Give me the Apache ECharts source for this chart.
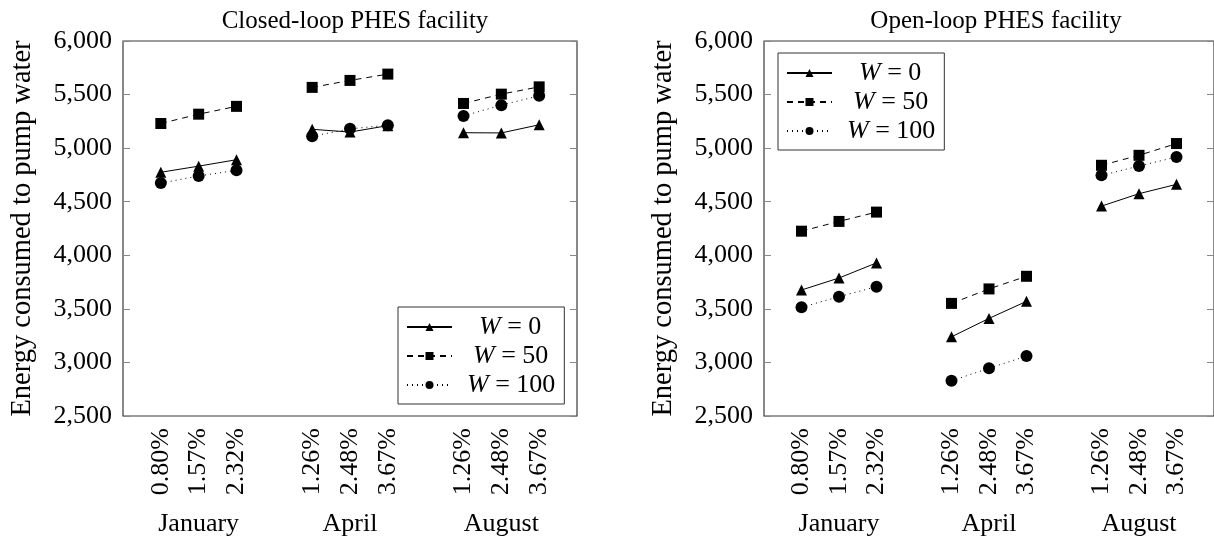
<!DOCTYPE html>
<html><head><meta charset="utf-8">
<script src="https://cdn.jsdelivr.net/npm/echarts@6/dist/echarts.min.js"></script>
<style>html,body{margin:0;padding:0;background:#fff}#c{width:1214px;height:539px}</style>
</head><body><div id="c"></div>
<script>
// ---- data ----
const months = ['January', 'April', 'August'];
const pctJanuary = ['0.80%', '1.57%', '2.32%'];
const pctApril = ['1.26%', '2.48%', '3.67%'];
const pctAugust = ['1.26%', '2.48%', '3.67%'];
const seriesNames = ['W = 0', 'W = 50', 'W = 100'];
const chartTitles = ['Closed-loop PHES facility', 'Open-loop PHES facility'];
const yTitle = 'Energy consumed to pump water';

// closed-loop: Jan(3), Apr(3), Aug(3)
const closedW0 = [4775, 4832, 4892, 5176, 5150, 5210, 5144, 5142, 5218];
const closedW50 = [5230, 5317, 5390, 5567, 5632, 5691, 5417, 5504, 5572];
const closedW100 = [4674, 4740, 4793, 5111, 5180, 5214, 5301, 5401, 5489];
// open-loop
const openW0 = [3676, 3788, 3929, 3239, 3411, 3570, 4459, 4575, 4662];
const openW50 = [4225, 4316, 4403, 3551, 3686, 3804, 4840, 4933, 5043];
const openW100 = [3514, 3614, 3707, 2828, 2946, 3059, 4746, 4833, 4917];

// ---- build ----
const FONT = '"Liberation Serif", "DejaVu Serif", serif';
const groups = [pctJanuary, pctApril, pctAugust];
const cats = [''];
groups.forEach(g => { g.forEach(l => cats.push(l)); cats.push(''); });
function withGaps(vals) {
  const out = ['-'];
  for (let gi = 0; gi < 3; gi++) {
    for (let k = 0; k < 3; k++) out.push(vals[gi * 3 + k]);
    out.push('-');
  }
  return out;
}
const chartData = [[closedW0, closedW50, closedW100], [openW0, openW50, openW100]];
const symbols = ['triangle', 'rect', 'circle'];
const symSizes = [11, 11, 12];
const dashTypes = ['solid', [6, 5], [1, 4]];

const gridLefts = [123, 764];
const grids = [], xAxes = [], yAxes = [], series = [], titles = [], legends = [];
const legendPos = [{left: 398, top: 307}, {left: 778, top: 53}];

for (let c = 0; c < 2; c++) {
  grids.push({left: gridLefts[c], top: 41, width: 454, height: 375, show: true,
    borderColor: '#3a3a3a', borderWidth: 1.2, backgroundColor: 'transparent'});
  xAxes.push({type: 'category', gridIndex: c, data: cats, boundaryGap: false, position: 'bottom',
    axisLine: {show: false}, axisTick: {show: false}, splitLine: {show: false},
    axisLabel: {interval: 0, rotate: 90, fontFamily: FONT, fontSize: 26, color: '#000', margin: 12}});
  xAxes.push({type: 'category', gridIndex: c, data: months, position: 'bottom', offset: 87,
    axisLine: {show: false}, axisTick: {show: false}, splitLine: {show: false},
    axisLabel: {fontFamily: FONT, fontSize: 26, color: '#000', margin: 8}});
  yAxes.push({type: 'value', gridIndex: c, min: 2500, max: 6000, interval: 500, position: 'left',
    name: yTitle, nameLocation: 'middle', nameGap: 86,
    nameTextStyle: {fontFamily: FONT, fontSize: 28.5, color: '#000'},
    axisLine: {show: false}, splitLine: {show: false},
    axisTick: {show: true, inside: true, length: 7, lineStyle: {color: '#888', width: 1}},
    axisLabel: {fontFamily: FONT, fontSize: 26, color: '#000', margin: 11,
      formatter: v => v.toLocaleString('en-US')}});
  yAxes.push({type: 'value', gridIndex: c, min: 2500, max: 6000, interval: 500, position: 'right',
    axisLine: {show: false}, splitLine: {show: false}, axisLabel: {show: false},
    axisTick: {show: true, inside: true, length: 7, lineStyle: {color: '#888', width: 1}}});
  for (let s = 0; s < 3; s++) {
    series.push({type: 'line', name: seriesNames[s], xAxisIndex: c * 2, yAxisIndex: c * 2,
      data: withGaps(chartData[c][s]), symbol: symbols[s], symbolSize: symSizes[s],
      connectNulls: false, animation: false,
      lineStyle: {color: '#000', width: 1, type: dashTypes[s]},
      itemStyle: {color: '#000'}});
  }
  titles.push({text: chartTitles[c], left: gridLefts[c] + 227, top: 4, textAlign: 'center',
    textStyle: {fontFamily: FONT, fontSize: 25, fontWeight: 'normal', color: '#000'}});
  legends.push({left: legendPos[c].left, top: legendPos[c].top, orient: 'vertical',
    data: seriesNames, itemWidth: 45, itemHeight: 10, itemGap: 3,
    padding: [7, 9, 6, 8], borderColor: '#333', borderWidth: 1, backgroundColor: '#fff',
    selectedMode: false,
    formatter: name => {
      const idx = seriesNames.indexOf(name);
      return '{s' + idx + '|}{w|W}{r|' + name.slice(1) + '}';
    },
    textStyle: {fontFamily: FONT, fontSize: 26, color: '#000', rich: {
      s0: {width: 22}, s1: {width: 16}, s2: {width: 10},
      w: {fontFamily: FONT, fontStyle: 'italic', fontSize: 26, lineHeight: 24, color: '#000'},
      r: {fontFamily: FONT, fontSize: 26, lineHeight: 24, color: '#000'}
    }}});
}

const chart = echarts.init(document.getElementById('c'), null, {renderer: 'canvas'});
chart.setOption({
  animation: false,
  backgroundColor: '#fff',
  title: titles, grid: grids, xAxis: xAxes, yAxis: yAxes, series: series, legend: legends
});
</script>
</body></html>
